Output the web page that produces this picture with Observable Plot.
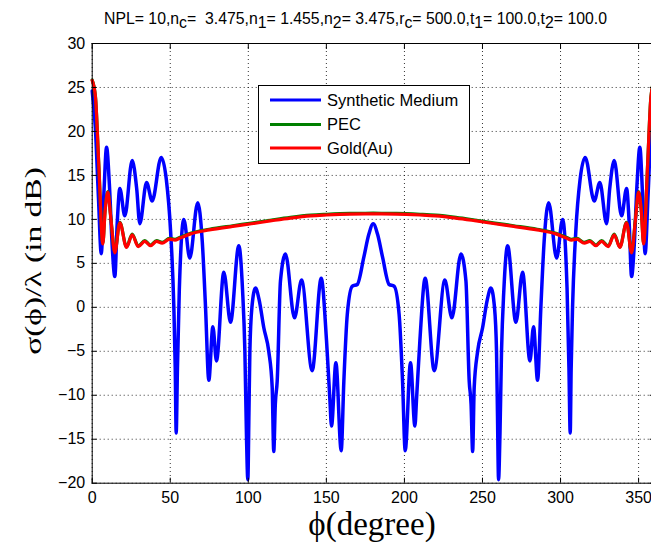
<!DOCTYPE html>
<html><head><meta charset="utf-8">
<script src="https://cdn.jsdelivr.net/npm/d3@7"></script>
<script src="https://cdn.jsdelivr.net/npm/@observablehq/plot@0.6"></script>
<style>
html,body{margin:0;padding:0;background:#fff;overflow:hidden;width:651px;height:545px}
#title{position:relative;height:34px;width:651px;font-family:"Liberation Sans",Arial,sans-serif;font-size:15.8px;color:#000}
#title .t{position:absolute;left:104px;top:11px;line-height:15px;white-space:pre}
#title sub{font-size:1em;vertical-align:-4px;line-height:0}
svg{display:block}
</style></head>
<body>
<div id="title"><span class="t">NPL= 10,n<sub>c</sub>=  3.475,n<sub>1</sub>= 1.455,n<sub>2</sub>= 3.475,r<sub>c</sub>= 500.0,t<sub>1</sub>= 100.0,t<sub>2</sub>= 100.0</span></div>
<div id="chart"></div>
<script>
// ---- data ----
const seriesNames = ["Synthetic Medium", "PEC", "Gold(Au)"];
const seriesColors = ["#0000ff", "#008000", "#ff0000"];

const phiSynthetic = [0,2,4,5.8,7.5,9.2,11,12.8,14.5,16,17.7,20.9,25.6,28.5,30.5,34.8,38.4,44.2,47.5,50.2,52.3,53.2,53.8,54.6,55.8,58.7,62.5,67.6,70.5,72.6,74.7,77.3,79.6,84.3,88.6,93.9,96.3,97.8,98.8,99.7,100.4,101.0,102.3,104.6,107,109.9,113.1,115.3,116.3,117.3,118.5,120.6,123.8,129.6,134.1,140.9,146.7,150.1,152.2,153.3,156.1,159.5,161.2,163.4,166.6,169.8,174.0,177.2,180,
 182.8,186.0,190.2,193.4,196.6,198.8,200.5,203.9,206.7,207.8,209.9,213.3,219.1,225.9,230.4,236.2,239.4,241.5,242.7,243.7,244.7,246.9,250.1,253,255.4,257.7,259.0,259.6,260.3,261.2,262.2,263.7,266.1,271.4,275.7,280.4,282.7,285.3,287.4,289.5,292.4,297.5,301.3,304.2,305.4,306.2,306.8,307.7,309.8,312.5,315.8,321.6,325.2,329.5,331.5,334.4,339.1,342.3,344,345.5,347.2,349,350.8,352.5,354.2,356,358,360];
const dBSynthetic = [24.6,20.5,12.5,6.1,13,18.2,14,7,3.5,9.5,13.5,10.4,16.7,13.5,9.5,14.2,12.1,17.05,14.5,8.7,0,-7,-14.3,-7,2,10.0,5.6,11.9,7.5,0,-8.3,-2.2,-6.1,4.0,-1.7,7.0,2,-5,-14.4,-19.6,-12,-5,0,2.2,0.8,-2.3,-5,-9.1,-16.4,-11,-8.4,3.0,6.05,-1.2,3.1,-7.2,3.3,-3.8,-10.3,-13.5,-6.3,-16.3,-8.4,-0.8,2.4,2.6,5.7,8.3,9.5,
 8.3,5.7,2.6,2.4,-0.8,-8.4,-16.3,-6.3,-13.5,-10.3,-3.8,3.3,-7.2,3.1,-1.2,6.05,3.0,-8.4,-11,-16.4,-9.1,-5,-2.3,0.8,2.2,0,-5,-12,-19.6,-14.4,-5,2,7.0,-1.7,4.0,-6.1,-2.2,-8.3,0,7.5,11.9,5.6,10.0,2,-7,-14.3,-7,0,8.7,14.5,17.05,12.1,14.2,9.5,13.5,16.7,10.4,13.5,9.5,3.5,7,14,18.2,13,6.1,12.5,20.5,24.6];

const phiGold = [0,2.1,4.2,6.8,8.3,10.0,12,14.5,17.7,22.0,25.6,29.5,33.7,37.3,41.2,44.8,49.5,53,56,63,75,90,102,115,127,140,150,165,180,
 195,210,220,233,245,258,270,285,297,304,307,310.5,315.2,318.8,322.7,326.3,330.5,334.4,338,342.3,345.5,348,350,351.7,353.2,355.8,357.9,360];
const dBGold = [25.8,23.9,16.3,7.2,11,13.1,10,6.2,9.6,6.8,8.25,6.9,7.5,7.0,7.5,7.3,7.75,7.65,7.85,8.35,8.8,9.2,9.5,9.85,10.15,10.4,10.5,10.6,10.62,
 10.6,10.5,10.4,10.15,9.85,9.5,9.2,8.8,8.35,7.85,7.65,7.75,7.3,7.5,7.0,7.5,6.9,8.25,6.8,9.6,6.2,10,13.1,11,7.2,16.3,23.9,25.8];
const phiPEC = phiGold;
const dBPEC = [25.85,23.95,16.35,7.27,11.07,13.17,10.07,6.27,9.67,6.87,8.33,6.98,7.58,7.08,7.58,7.38,7.83,7.73,7.93,8.43,8.88,9.28,9.58,9.93,10.23,10.48,10.58,10.68,10.7,
 10.68,10.58,10.48,10.23,9.93,9.58,9.28,8.88,8.43,7.93,7.73,7.83,7.38,7.58,7.08,7.58,6.98,8.33,6.87,9.67,6.27,10.07,13.17,11.07,7.27,16.35,23.95,25.85];

const xTicks = [0,50,100,150,200,250,300,350];
const xTickLabels = ["0","50","100","150","200","250","300","350"];
const yTicks = [-20,-15,-10,-5,0,5,10,15,20,25,30];
const yTickLabels = ["\u221220","\u221215","\u221210","\u22125","0","5","10","15","20","25","30"];
const xLabel = "\u03d5(degree)";
const yLabel = "\u03c3(\u03d5)/\u03bb (in dB)";

const synthetic = phiSynthetic.map((p,i)=>({phi:p, v:dBSynthetic[i]}));
const gold = phiGold.map((p,i)=>({phi:p, v:dBGold[i]}));
const pec = phiPEC.map((p,i)=>({phi:p, v:dBPEC[i]}));

const W = 651, H = 511;
const gridStyle = {stroke:"#000", strokeOpacity:0.8, strokeDasharray:"1,3", strokeWidth:1};
const chart = Plot.plot({
  width: W, height: H,
  marginLeft: 91.7, marginRight: -2.7, marginTop: 9, marginBottom: 62.3,
  x: {domain:[0,360]},
  y: {domain:[-20,30]},
  style: {fontFamily:"'Liberation Sans', Arial, sans-serif", fontSize:"16px", background:"#fff", color:"#000", overflow:"visible"},
  marks: [
    Plot.gridX(xTicks, gridStyle),
    Plot.gridY(yTicks, gridStyle),
    Plot.line(synthetic, {x:"phi", y:"v", stroke:seriesColors[0], strokeWidth:3.5, curve:"monotone-x"}),
    Plot.line(pec, {x:"phi", y:"v", stroke:seriesColors[1], strokeWidth:3.2, curve:"monotone-x"}),
    Plot.line(gold, {x:"phi", y:"v", stroke:seriesColors[2], strokeWidth:3.2, curve:"monotone-x"}),
    Plot.frame({stroke:"#000", strokeWidth:1}),
    Plot.axisX(xTicks, {anchor:"bottom", tickSize:0, tickPadding:8, fontSize:16, label:null, tickFormat:(d,i)=>xTickLabels[i]}),
    Plot.axisY(yTicks, {anchor:"left", tickSize:0, tickPadding:7, fontSize:16, label:null, tickFormat:(d,i)=>yTickLabels[i]}),
    Plot.axisX(xTicks, {anchor:"bottom", tickSize:-5, label:null, tickFormat:()=>""}),
    Plot.axisX(xTicks, {anchor:"top", tickSize:-5, label:null, tickFormat:()=>""}),
    Plot.axisY(yTicks, {anchor:"left", tickSize:-5, label:null, tickFormat:()=>""}),
    Plot.axisY(yTicks, {anchor:"right", tickSize:-5, label:null, tickFormat:()=>""})
  ]
});
document.getElementById("chart").appendChild(chart);

const svg = d3.select(chart);
// axis labels
svg.append("text").attr("x", 372).attr("y", 501)
  .attr("text-anchor","middle").attr("font-family","'Liberation Serif','Times New Roman',serif")
  .attr("font-size", 33).attr("fill","#000").text(xLabel);
svg.append("text").attr("transform","translate(40.5,227) rotate(-90) scale(1,0.71)")
  .attr("text-anchor","middle").attr("font-family","'Liberation Serif','Times New Roman',serif")
  .attr("font-size", 33.5).attr("fill","#000").text(yLabel);

// legend
const lg = svg.append("g").attr("font-family","'Liberation Sans', Arial, sans-serif").attr("font-size",16.5).attr("text-anchor","start");
lg.append("rect").attr("x",258.5).attr("y",51.5).attr("width",211).attr("height",78)
  .attr("fill","#fff").attr("stroke","#000").attr("stroke-width",1);
const rowsY = [66, 90.5, 114];
seriesNames.forEach((name,i)=>{
  lg.append("line").attr("x1",270).attr("x2",321).attr("y1",rowsY[i]).attr("y2",rowsY[i])
    .attr("stroke",seriesColors[i]).attr("stroke-width",3);
  lg.append("text").attr("x",327).attr("y",rowsY[i]).attr("dy","0.35em").attr("text-anchor","start").attr("fill","#000").text(name);
});
</script>
</body></html>
